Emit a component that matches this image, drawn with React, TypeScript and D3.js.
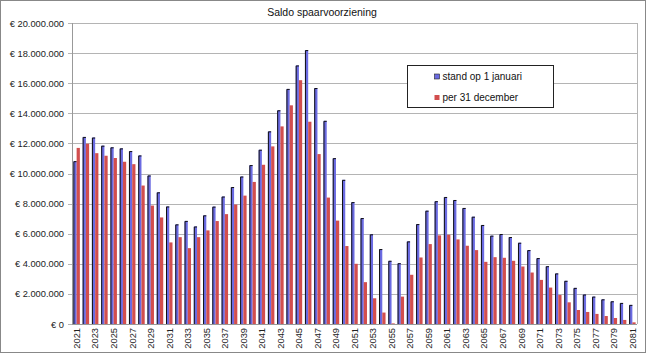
import React, { useEffect, useRef } from "react";
import * as d3 from "d3";

// years on the x axis
const years = d3.range(2021, 2082);
const yearLabels = years.filter((y) => (y - 2021) % 2 === 0);

// saldo in miljoen euro
const standJanuari = [
  10.82, 12.43, 12.39, 11.85, 11.74, 11.67, 11.49, 11.2, 9.87, 8.75,
  7.81, 6.62, 6.85, 6.48, 7.22, 7.8, 8.47, 9.1, 9.8, 10.56,
  11.58, 12.8, 14.2, 15.62, 17.18, 18.2, 15.68, 13.5, 11.02, 9.58,
  8.1, 7.04, 5.96, 4.98, 4.2, 4.04, 5.49, 6.64, 7.53, 8.16,
  8.44, 8.24, 7.71, 7.13, 6.58, 5.87, 5.98, 5.78, 5.4, 4.91,
  4.38, 3.84, 3.36, 2.87, 2.4, 1.96, 1.82, 1.64, 1.51, 1.4, 1.27,
];
const per31December = [
  11.7, 11.98, 11.35, 11.18, 11.03, 10.78, 10.62, 9.2, 7.87, 7.08,
  5.42, 5.77, 5.04, 5.77, 6.22, 6.84, 7.3, 7.94, 8.53, 9.44,
  10.58, 11.8, 13.13, 14.53, 16.2, 13.44, 11.29, 8.4, 6.87, 5.18,
  4.0, 2.78, 1.71, 0.76, 0.04, 1.82, 3.27, 4.42, 5.31, 5.89,
  5.93, 5.62, 5.2, 4.91, 4.13, 4.44, 4.4, 4.2, 3.82, 3.42,
  2.93, 2.42, 1.93, 1.44, 0.93, 0.8, 0.67, 0.53, 0.4, 0.27, 0.11,
];
const yTicks = [0, 2, 4, 6, 8, 10, 12, 14, 16, 18, 20];
const seriesNames = ["stand op 1 januari", "per 31 december"];

const App = () => {
  const svgRef = useRef(null);

  useEffect(() => {
    const width = 646;
    const height = 353;
    const left = 72;
    const right = 637;
    const top = 23;
    const bottom = 324;
    const font = "'Liberation Sans', Arial, sans-serif";
    const blue = "#6b6be2";
    const red = "#d24e4e";

    const svg = d3.select(svgRef.current);
    svg.selectAll("*").remove();
    svg.attr("width", width).attr("height", height);

    svg
      .append("rect")
      .attr("x", 0.5)
      .attr("y", 0.5)
      .attr("width", width - 1)
      .attr("height", height - 1)
      .attr("fill", "white")
      .attr("stroke", "#888");

    const x = d3
      .scaleBand()
      .domain(years.map(String))
      .range([left, right])
      .paddingInner(0.3)
      .paddingOuter(0.15);

    const sub = d3
      .scaleBand()
      .domain(["jan", "dec"])
      .range([0, x.bandwidth()]);

    const y = d3
      .scaleLinear()
      .domain([0, 20])
      .range([bottom, top]);

    const fmt = (v) =>
      v === 0 ? "€ 0" : "€ " + d3.format(",")(v * 1000000).replace(/,/g, ".");

    // gridlines
    svg
      .append("g")
      .selectAll("line")
      .data(yTicks)
      .join("line")
      .attr("x1", left - 4)
      .attr("x2", right)
      .attr("y1", (d) => Math.round(y(d)) + 0.5)
      .attr("y2", (d) => Math.round(y(d)) + 0.5)
      .attr("stroke", "#b4b4b4")
      .attr("stroke-width", 1.2);

    svg
      .append("line")
      .attr("x1", left + 0.5)
      .attr("x2", left + 0.5)
      .attr("y1", top)
      .attr("y2", bottom)
      .attr("stroke", "#999");
    svg
      .append("line")
      .attr("x1", right + 0.5)
      .attr("x2", right + 0.5)
      .attr("y1", top)
      .attr("y2", bottom)
      .attr("stroke", "#b4b4b4");

    // y labels
    svg
      .append("g")
      .selectAll("text")
      .data(yTicks)
      .join("text")
      .attr("x", 64)
      .attr("y", (d) => y(d) + 3.5)
      .attr("text-anchor", "end")
      .attr("font-family", font)
      .attr("font-size", 9.3)
      .attr("fill", "#222")
      .text(fmt);

    // bars
    const bars = svg.append("g");
    bars
      .selectAll(".jan")
      .data(standJanuari)
      .join("rect")
      .attr("x", (d, i) => x(String(years[i])) + sub("jan"))
      .attr("y", (d) => y(d))
      .attr("width", sub.bandwidth())
      .attr("height", (d) => bottom - y(d))
      .attr("fill", blue);
    bars
      .selectAll(".janEdge")
      .data(standJanuari)
      .join("path")
      .attr("d", (d, i) => {
        const bx = x(String(years[i])) + sub("jan") + 0.5;
        return `M${bx},${bottom}V${y(d) + 0.5}H${bx + sub.bandwidth() - 0.5}`;
      })
      .attr("fill", "none")
      .attr("stroke", "#111")
      .attr("stroke-width", 1);
    bars
      .selectAll(".dec")
      .data(per31December)
      .join("rect")
      .attr("x", (d, i) => x(String(years[i])) + sub("dec"))
      .attr("y", (d) => y(d))
      .attr("width", sub.bandwidth())
      .attr("height", (d) => bottom - y(d))
      .attr("fill", red);

    svg
      .append("line")
      .attr("x1", left)
      .attr("x2", right)
      .attr("y1", bottom + 0.5)
      .attr("y2", bottom + 0.5)
      .attr("stroke", "#999");

    // x labels
    svg
      .append("g")
      .selectAll("text")
      .data(yearLabels)
      .join("text")
      .attr(
        "transform",
        (d) =>
          `translate(${x(String(d)) + x.bandwidth() / 2 + 3.3},${bottom + 4}) rotate(-90)`
      )
      .attr("text-anchor", "end")
      .attr("font-family", font)
      .attr("font-size", 9.3)
      .attr("fill", "#222")
      .text((d) => d);

    // title
    svg
      .append("text")
      .attr("x", 322)
      .attr("y", 16)
      .attr("text-anchor", "middle")
      .attr("font-family", font)
      .attr("font-size", 10.5)
      .attr("fill", "#111")
      .text("Saldo spaarvoorziening");

    // legend
    const legend = svg.append("g").attr("transform", "translate(407.5,65.5)");
    legend
      .append("rect")
      .attr("width", 146)
      .attr("height", 42)
      .attr("fill", "white")
      .attr("stroke", "#222");
    const colors = [blue, red];
    seriesNames.forEach((name, i) => {
      const g = legend.append("g").attr("transform", `translate(27,${11 + i * 21})`);
      g.append("rect")
        .attr("x", 0)
        .attr("y", -2.5)
        .attr("width", 5)
        .attr("height", 5)
        .attr("fill", colors[i])
        .attr("stroke", i === 0 ? "#222" : "none")
        .attr("stroke-width", 0.6);
      g.append("text")
        .attr("x", 8)
        .attr("y", 3.5)
        .attr("font-family", font)
        .attr("font-size", 10)
        .attr("fill", "#111")
        .text(name);
    });
  }, []);

  return (
    <svg
      ref={svgRef}
      style={{ position: "absolute", left: 0, top: 0, display: "block" }}
    ></svg>
  );
};

export default App;
